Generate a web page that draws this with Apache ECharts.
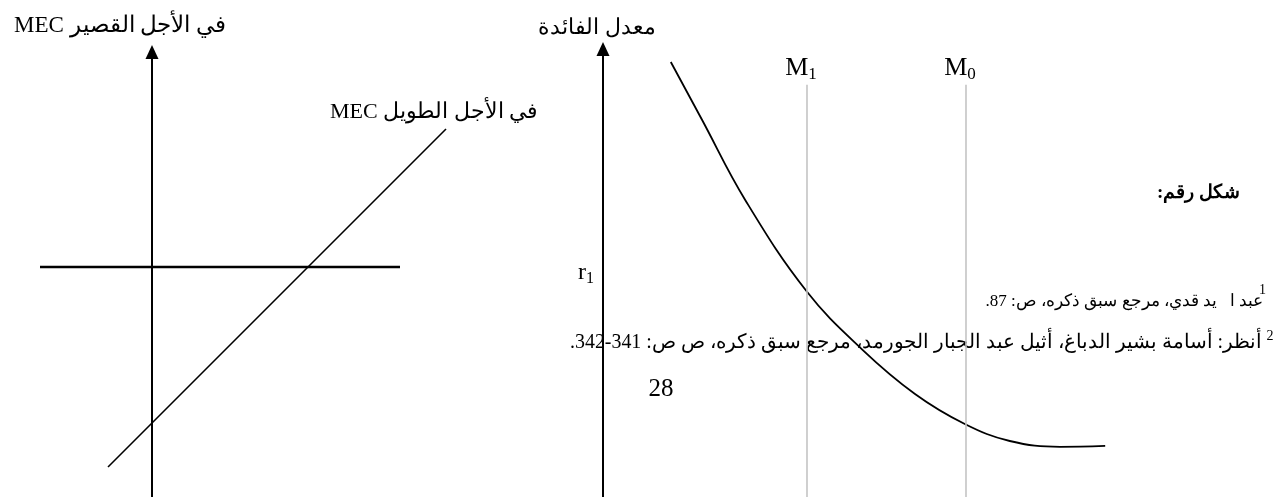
<!DOCTYPE html>
<html>
<head>
<meta charset="utf-8">
<script src="https://cdn.jsdelivr.net/npm/echarts@6/dist/echarts.min.js"></script>
<style>
  html, body { margin: 0; padding: 0; background: #fff; }
  #chart { width: 1283px; height: 497px; }
</style>
</head>
<body>
<div id="chart"></div>
<script>
// Left panel: short-run MEC level (horizontal) and the long-run MEC line
const shortRunLevel = [[-2.8, 0], [6.2, 0]];
const longRunLine = [[-1.1, -5.0], [7.35, 3.45]];

// Right panel: interest-rate curve
const rateCurveX = [1.13, 1.65, 2.37, 3.4, 4.33, 5.2, 6.03, 6.78, 7.62, 8.37];
const rateCurveY = [9.71, 8.42, 6.63, 4.58, 3.28, 2.3, 1.63, 1.25, 1.12, 1.14];

// Money-supply positions and the marked interest rate
const moneyLevels = [
  { main: 'M', sub: '1', x: 3.4 },
  { main: 'M', sub: '0', x: 6.05 }
];
const rateLevels = [{ main: 'r', sub: '1', y: 5.0 }];

// Texts (right-to-left; a leading RLM sets the paragraph direction)
const RLM = '\u200F';
const rtl = s => RLM + s + RLM;
const shortRunName = 'MEC في الأجل القصير';
const longRunName = 'MEC في الأجل الطويل';
const rateAxisName = 'معدل الفائدة';
const figureCaption = 'شكل رقم:';
const footnote1 = 'عبد ا   يد قدي، مرجع سبق ذكره، ص: 87.';
const footnote2 = 'أنظر: أسامة بشير الدباغ، أثيل عبد الجبار الجورمد، مرجع سبق ذكره، ص ص: 341-342.';
const pageNumber = '28';

const SERIF = "'Liberation Serif', 'DejaVu Serif', serif";
const lineTop = 9.2;

const chart = echarts.init(document.getElementById('chart'), null, { renderer: 'canvas' });

const hiddenX = {
  type: 'value',
  axisLine: { show: false },
  axisTick: { show: false },
  axisLabel: { show: false },
  splitLine: { show: false }
};

const subRich = size => ({
  m: { fontFamily: SERIF, fontSize: size, color: '#000' },
  s: { fontFamily: SERIF, fontSize: Math.round(size * 0.66), color: '#000', padding: [Math.round(size * 0.5), 0, 0, 0] }
});

const textStyleAt = (text, size, align, extra) => Object.assign({
  text: text, fontFamily: SERIF, fontSize: size, fill: '#000',
  textAlign: align, textVerticalAlign: 'middle', align: align, verticalAlign: 'middle'
}, extra || {});

chart.setOption({
  animation: false,
  backgroundColor: '#fff',
  textStyle: { fontFamily: SERIF, color: '#000' },
  grid: [
    { left: 40, top: 52, width: 432, height: 445 },
    { left: 603, top: 49, width: 600, height: 448 }
  ],
  xAxis: [
    Object.assign({ gridIndex: 0, min: -2.8, max: 8 }, hiddenX),
    Object.assign({ gridIndex: 1, min: 0, max: 10 }, hiddenX)
  ],
  yAxis: [
    {
      gridIndex: 0, type: 'value', min: -5.75, max: 5.375,
      axisLine: {
        show: true, onZero: true,
        symbol: ['none', 'triangle'], symbolSize: [13, 14],
        lineStyle: { color: '#000', width: 2 }
      },
      axisTick: { show: false },
      axisLabel: { show: false },
      splitLine: { show: false },
      name: rtl(shortRunName),
      nameLocation: 'end',
      nameGap: 15,
      nameTextStyle: { fontFamily: SERIF, fontSize: 23, color: '#000', padding: [0, 64, 0, 0] }
    },
    {
      gridIndex: 1, type: 'value', min: 0, max: 10,
      axisLine: {
        show: true, onZero: false,
        symbol: ['none', 'triangle'], symbolSize: [13, 14],
        lineStyle: { color: '#000', width: 2 }
      },
      axisTick: { show: false },
      axisLabel: {
        show: true,
        customValues: rateLevels.map(r => r.y),
        margin: 9,
        formatter: () => '{m|' + rateLevels[0].main + '}{s|' + rateLevels[0].sub + '}',
        rich: subRich(24)
      },
      splitLine: { show: false },
      name: rtl(rateAxisName),
      nameLocation: 'end',
      nameGap: 10,
      nameTextStyle: { fontFamily: SERIF, fontSize: 22, color: '#000', padding: [0, 12, 0, 0] }
    }
  ],
  series: [
    {
      type: 'line', xAxisIndex: 0, yAxisIndex: 0,
      data: shortRunLevel, symbol: 'none', silent: true,
      lineStyle: { color: '#000', width: 2.5 }
    },
    {
      type: 'line', xAxisIndex: 0, yAxisIndex: 0,
      data: longRunLine, symbol: 'none', silent: true,
      lineStyle: { color: '#000', width: 1.6 },
      markPoint: {
        symbol: 'circle', symbolSize: 1,
        itemStyle: { color: 'rgba(0,0,0,0)' },
        silent: true,
        label: {
          show: true, position: 'top', distance: 5, offset: [-12, 0],
          fontFamily: SERIF, fontSize: 22, color: '#000',
          formatter: rtl(longRunName)
        },
        data: [{ coord: longRunLine[longRunLine.length - 1] }]
      }
    },
    {
      type: 'line', xAxisIndex: 1, yAxisIndex: 1,
      data: rateCurveX.map((x, i) => [x, rateCurveY[i]]),
      symbol: 'none', smooth: 0.4, silent: true,
      lineStyle: { color: '#000', width: 1.8 },
      markLine: {
        silent: true,
        symbol: ['none', 'none'],
        lineStyle: { color: '#c4c4c4', width: 1.6, type: 'solid' },
        label: {
          show: true, position: 'end', distance: 2, offset: [-6, 0],
          formatter: p => '{m|' + p.data.main + '}{s|' + p.data.sub + '}',
          rich: subRich(26)
        },
        data: moneyLevels.map(m => [
          { coord: [m.x, 0], main: m.main, sub: m.sub },
          { coord: [m.x, lineTop], main: m.main, sub: m.sub }
        ])
      }
    }
  ],
  graphic: [
    { type: 'text', x: 1240, y: 193, silent: true,
      style: textStyleAt(rtl(figureCaption), 19, 'right', { fontWeight: 'bold' }) },
    { type: 'text', x: 1263, y: 302, silent: true,
      style: textStyleAt(rtl(footnote1), 17, 'right') },
    { type: 'text', x: 1266, y: 290, silent: true,
      style: textStyleAt('1', 14, 'right') },
    { type: 'text', x: 1262, y: 343, silent: true,
      style: textStyleAt(rtl(footnote2), 19.9, 'right') },
    { type: 'text', x: 1270, y: 336, silent: true,
      style: textStyleAt('2', 14, 'center') },
    { type: 'text', x: 661, y: 389, silent: true,
      style: textStyleAt(pageNumber, 25, 'center') }
  ]
});
</script>
</body>
</html>
